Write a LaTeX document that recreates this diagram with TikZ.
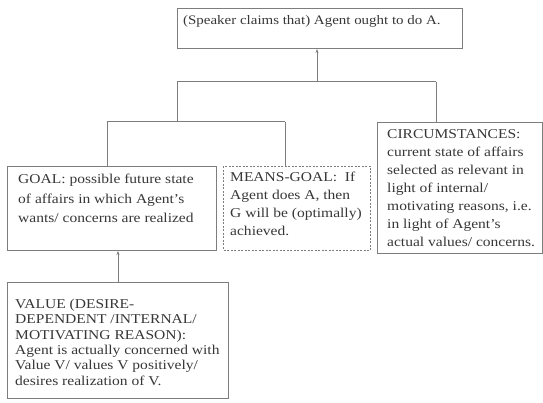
\documentclass[tikz,border=0pt]{standalone}
\usepackage{fontspec}
\setmainfont{Liberation Serif}[FakeStretch=1.15]
\usetikzlibrary{arrows.meta}
\definecolor{linegray}{RGB}{125,125,125}
\definecolor{textgray}{RGB}{55,55,55}
\tikzset{
  box/.style={draw=linegray, line width=1pt, anchor=north west, inner sep=0pt},
  dbox/.style={box, dashed, dash pattern=on 2pt off 1.5pt},
  txt/.style={anchor=north west, inner sep=0pt, align=left, text=textgray, font=\fontsize{13.5}{18}\selectfont},
  conn/.style={draw=linegray, line width=1pt},
  arr/.style={conn, -{Stealth[length=4pt,width=3pt]}}
}
\begin{document}
\begin{tikzpicture}[x=1pt,y=-1pt]
\useasboundingbox (0,0) rectangle (543,403);
% boxes
\node[box, minimum width=285pt, minimum height=40pt] (top) at (177,8) {};
\node[box, minimum width=209pt, minimum height=84pt] (goal) at (7,166) {};
\node[dbox, minimum width=147pt, minimum height=84pt] (means) at (223,166) {};
\node[box, minimum width=165pt, minimum height=131pt] (circ) at (377,122) {};
\node[box, minimum width=221pt, minimum height=116pt] (value) at (7,282) {};
% texts
\node[txt, font=\fontsize{13}{18}\selectfont] (ttop) at (183,15) {(Speaker claims that) Agent ought to do A.};
\node[txt, font=\fontsize{13.5}{19.5}\selectfont] (tgoal) at (18,174) {GOAL: possible future state\\of affairs in which Agent's\\wants/ concerns are realized};
\node[txt] (tmeans) at (230,172) {MEANS-GOAL:\ \ If\\Agent does A, then\\G will be (optimally)\\achieved.};
\node[txt] (tcirc) at (387,129) {CIRCUMSTANCES:\\current state of affairs\\selected as relevant in\\light of internal/\\motivating reasons, i.e.\\in light of Agent's\\actual values/ concerns.};
\node[txt, font=\fontsize{13.5}{15.3}\selectfont] (tvalue) at (15,299) {VALUE (DESIRE-\\DEPENDENT /INTERNAL/\\MOTIVATING REASON):\\Agent is actually concerned with\\Value V/ values V positively/\\desires realization of V.};
% connector coordinates
\coordinate (barL) at (177,82);
\coordinate (barM) at (317,82);
\coordinate (barR) at (436,82);
\coordinate (subM) at (177,122);
\coordinate (subL) at (107,122);
\coordinate (subR) at (285,122);
% connectors
\draw[arr] (barM) -- (barM |- top.south);
\draw[conn] (barL) -- (barR);
\draw[conn] (barR) -- (barR |- circ.north);
\draw[conn] (barL) -- (subM);
\draw[conn] (subL) -- (subR);
\draw[conn] (subL) -- (subL |- goal.north);
\draw[conn] (subR) -- (subR |- means.north);
\draw[arr] (value.north -| 118,0) -- (118,0 |- goal.south);
\end{tikzpicture}
\end{document}
